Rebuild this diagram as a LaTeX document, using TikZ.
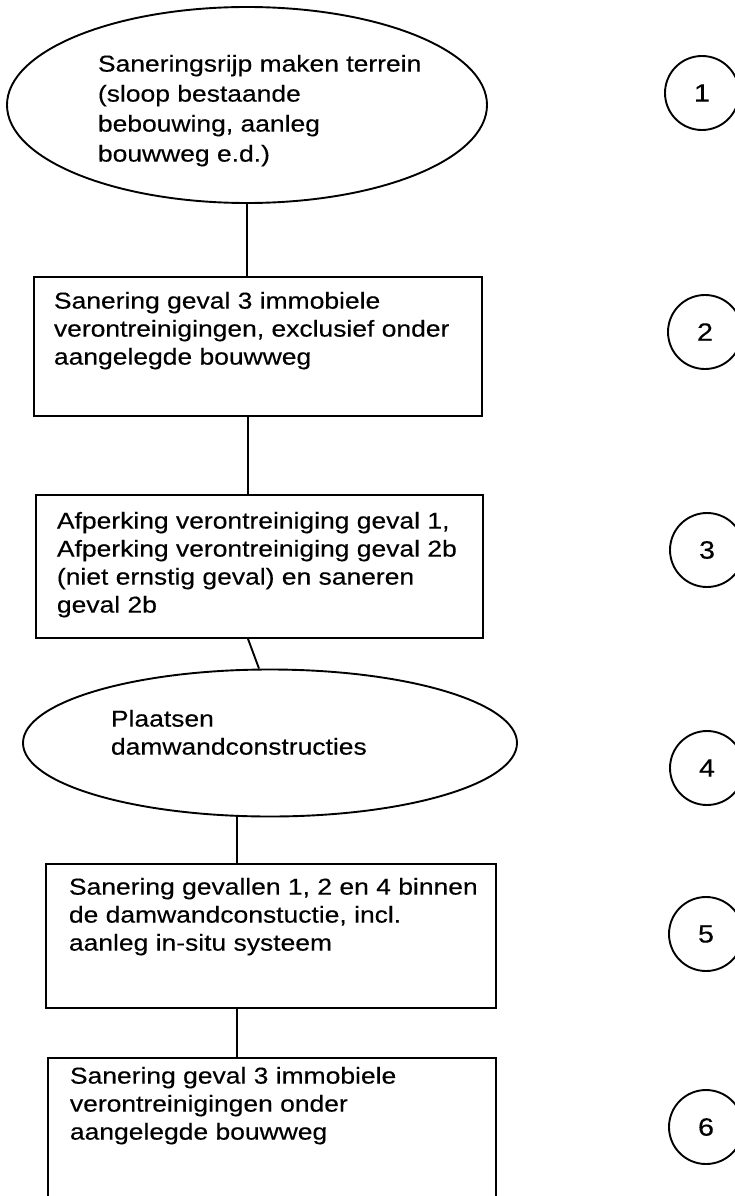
\documentclass[tikz,border=0pt]{standalone}
\usepackage{fontspec}
\setmainfont[FakeStretch=1.15,FakeBold=0.3]{Liberation Sans}
\usetikzlibrary{shapes.geometric,calc}
\begin{document}
\begin{tikzpicture}[x=1pt,y=-1pt,
  line width=1.9pt,
  boxst/.style={draw, rectangle, inner sep=0pt, anchor=north west},
  ellst/.style={draw, ellipse, inner sep=0pt},
  lbl/.style={anchor=north west, inner sep=0pt, align=left, font=\fontsize{23}{28}\selectfont},
  elbl/.style={lbl, font=\fontsize{23}{30}\selectfont},
  num/.style={draw, circle, minimum size=74pt, inner sep=0pt, font=\fontsize{25}{28}\selectfont},
  link/.style={draw}]
\useasboundingbox (0,0) rectangle (735,1196);
\clip (0,0) rectangle (735,1196);
\fill[white] (0,0) rectangle (735,1196);

% step 1
\node[ellst, minimum width=480pt, minimum height=196pt] (e1) at (247,105) {};
\node[elbl] (t1) at (97,54) {Saneringsrijp maken terrein\\(sloop bestaande\\bebouwing, aanleg\\bouwweg e.d.)};

% step 2
\node[boxst, minimum width=448pt, minimum height=139pt] (b2) at (33,276) {};
\node[lbl] (t2) at (53,291) {Sanering geval 3 immobiele\\verontreinigingen, exclusief onder\\aangelegde bouwweg};

% step 3
\node[boxst, minimum width=447pt, minimum height=143pt] (b3) at (35,494) {};
\node[lbl] (t3) at (56,511) {Afperking verontreiniging geval 1,\\Afperking verontreiniging geval 2b\\(niet ernstig geval) en saneren\\geval 2b};

% step 4
\node[ellst, minimum width=494pt, minimum height=147pt] (e4) at (270,743) {};
\node[lbl] (t4) at (110,709) {Plaatsen\\damwandconstructies};

% step 5
\node[boxst, minimum width=450pt, minimum height=144pt] (b5) at (45,863) {};
\node[lbl] (t5) at (68,877) {Sanering gevallen 1, 2 en 4 binnen\\de damwandconstuctie, incl.\\aanleg in-situ systeem};

% step 6
\node[boxst, minimum width=448pt, minimum height=180pt] (b6) at (47,1057) {};
\node[lbl] (t6) at (69,1066) {Sanering geval 3 immobiele\\verontreinigingen onder\\aangelegde bouwweg};

% connectors
\draw[link] (e1.south) -- (e1.south |- b2.north);
\draw[link] ($(b2.south west)+(215,0)$) -- ($(b3.north west)+(213,0)$);
\draw[link] ($(b3.south west)+(213,0)$) -- ($(e4.north)+(-11,0)$);
\draw[link] ($(e4.south)+(-33,-1)$) -- ($(b5.north west)+(192,0)$);
\draw[link] ($(b5.south west)+(192,0)$) -- ($(b6.north west)+(190,0)$);

% step numbers
\node[num] (n1) at (702,93) {1};
\node[num] (n2) at (705,332) {2};
\node[num] (n3) at (707,550) {3};
\node[num] (n4) at (707,768) {4};
\node[num] (n5) at (706,934) {5};
\node[num] (n6) at (706,1127) {6};
\end{tikzpicture}
\end{document}
